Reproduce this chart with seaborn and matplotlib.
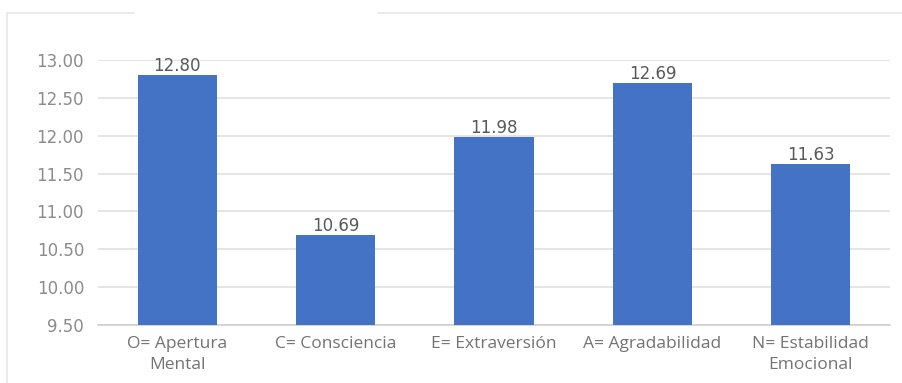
import matplotlib
matplotlib.use("Agg")
import matplotlib.pyplot as plt
import seaborn as sns
import pandas as pd
from matplotlib.lines import Line2D

categories = ["O= Apertura\nMental", "C= Consciencia", "E= Extraversión",
              "A= Agradabilidad", "N= Estabilidad\nEmocional"]
values = [12.80, 10.69, 11.98, 12.69, 11.63]
yticks = [9.50, 10.00, 10.50, 11.00, 11.50, 12.00, 12.50, 13.00]

df = pd.DataFrame({"cat": categories, "val": values})

sns.set_theme(style="white")
plt.rcParams['font.family'] = ['DejaVu Sans']

fig = plt.figure(figsize=(9.03, 3.83), dpi=100)
ax = fig.add_axes([98/903, 58/383, (890-98)/903, (325-60)/383])

sns.barplot(data=df, x="cat", y="val", color="#4472C4", saturation=1,
            width=0.5, ax=ax, zorder=3, linewidth=0)

ax.set_ylim(9.5, 13.0)
ax.set_yticks(yticks)
ax.set_yticklabels([f"{t:.2f}" for t in yticks], color="#8c8c8c", fontsize=12)
ax.set_xlim(-0.5, 4.5)
ax.set_xlabel("")
ax.set_ylabel("")
ax.grid(axis="y", color="#e0e0e0", linewidth=1.2, zorder=0)
for s in ["top", "right", "left"]:
    ax.spines[s].set_visible(False)
ax.spines["bottom"].set_color("#d0d0d0")
ax.spines["bottom"].set_linewidth(1.2)
ax.tick_params(axis="y", length=0, pad=10)
ax.tick_params(axis="x", length=0, pad=8)
for lbl in ax.get_xticklabels():
    lbl.set_fontfamily("Open Sans")
    lbl.set_fontsize(12.5)
    lbl.set_color("#737373")
    lbl.set_linespacing(1.4)

for c in ax.containers:
    ax.bar_label(c, labels=[f"{v:.2f}" for v in values], padding=0,
                 fontsize=12, color="#595959")

# figure frame lines
fig.add_artist(Line2D([7/903, 7/903], [0, 1 - 13/383], color="#e6e6e6", lw=1.2))
fig.add_artist(Line2D([7/903, 134/903], [1 - 13/383, 1 - 13/383], color="#e6e6e6", lw=1.2))
fig.add_artist(Line2D([378/903, 1.0], [1 - 13/383, 1 - 13/383], color="#e6e6e6", lw=1.2))

fig.savefig("out.png", dpi=100)
